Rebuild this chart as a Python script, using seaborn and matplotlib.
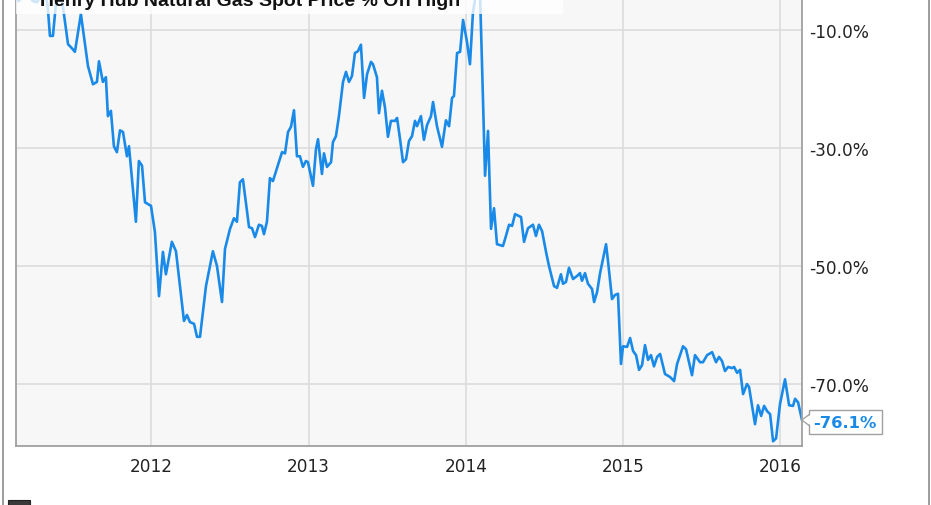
import matplotlib
matplotlib.use("Agg")
import matplotlib.pyplot as plt
import seaborn as sns
import pandas as pd
from matplotlib.patches import Rectangle, Polygon
from matplotlib.lines import Line2D
from matplotlib.transforms import ScaledTranslation

# --- dados (ano decimal, % abaixo da maxima) ---
years = [
    2011.150, 2011.176, 2011.214, 2011.246, 2011.271, 2011.303, 2011.329, 2011.341,
    2011.354, 2011.373, 2011.392, 2011.405, 2011.424, 2011.437, 2011.469, 2011.494,
    2011.513, 2011.551, 2011.596, 2011.628, 2011.653, 2011.666, 2011.691, 2011.710,
    2011.723, 2011.742, 2011.761, 2011.780, 2011.800, 2011.819, 2011.844, 2011.857,
    2011.901, 2011.920, 2011.940, 2011.959, 2011.997, 2012.022, 2012.048, 2012.073,
    2012.092, 2012.130, 2012.156, 2012.207, 2012.226, 2012.245, 2012.271, 2012.290,
    2012.309, 2012.347, 2012.391, 2012.417, 2012.449, 2012.468, 2012.500, 2012.525,
    2012.544, 2012.563, 2012.582, 2012.621, 2012.640, 2012.659, 2012.684, 2012.703,
    2012.716, 2012.735, 2012.754, 2012.773, 2012.831, 2012.850, 2012.869, 2012.888,
    2012.907, 2012.926, 2012.945, 2012.964, 2012.983, 2012.996, 2013.028, 2013.047,
    2013.060, 2013.085, 2013.098, 2013.117, 2013.143, 2013.155, 2013.174, 2013.193,
    2013.219, 2013.238, 2013.257, 2013.276, 2013.295, 2013.314, 2013.333, 2013.353,
    2013.372, 2013.397, 2013.410, 2013.435, 2013.448, 2013.467, 2013.486, 2013.505,
    2013.524, 2013.550, 2013.563, 2013.582, 2013.601, 2013.620, 2013.639, 2013.658,
    2013.677, 2013.690, 2013.715, 2013.734, 2013.754, 2013.779, 2013.792, 2013.817,
    2013.849, 2013.874, 2013.894, 2013.913, 2013.925, 2013.945, 2013.964, 2013.983,
    2014.008, 2014.027, 2014.046, 2014.072, 2014.091, 2014.104, 2014.123, 2014.142,
    2014.161, 2014.180, 2014.199, 2014.237, 2014.256, 2014.276, 2014.295, 2014.314,
    2014.352, 2014.371, 2014.396, 2014.428, 2014.447, 2014.466, 2014.486, 2014.511,
    2014.530, 2014.562, 2014.581, 2014.606, 2014.619, 2014.638, 2014.657, 2014.683,
    2014.708, 2014.727, 2014.740, 2014.759, 2014.778, 2014.804, 2014.817, 2014.836,
    2014.855, 2014.893, 2014.906, 2014.931, 2014.950, 2014.969, 2014.988, 2015.001,
    2015.027, 2015.046, 2015.065, 2015.084, 2015.103, 2015.122, 2015.141, 2015.160,
    2015.179, 2015.198, 2015.218, 2015.237, 2015.268, 2015.300, 2015.326, 2015.345,
    2015.383, 2015.402, 2015.440, 2015.459, 2015.491, 2015.510, 2015.536, 2015.568,
    2015.593, 2015.612, 2015.631, 2015.650, 2015.670, 2015.695, 2015.708, 2015.727,
    2015.746, 2015.765, 2015.790, 2015.803, 2015.841, 2015.860, 2015.880, 2015.899,
    2015.918, 2015.937, 2015.956, 2015.975, 2016.000, 2016.032, 2016.058, 2016.083,
    2016.096, 2016.115, 2016.140,
]
pct_off_high = [
    -5.1, -4.6, -4.1, -5.1, -5.3, -3.7, -4.1, -6.4,
    -11.0, -11.0, -5.6, -4.2, -4.4, -6.1, -12.4, -13.1,
    -13.7, -7.3, -16.1, -19.2, -18.8, -15.3, -18.8, -18.0,
    -24.6, -23.7, -29.7, -30.7, -27.0, -27.3, -31.4, -29.7,
    -42.5, -32.2, -33.0, -39.2, -39.8, -44.2, -55.1, -47.6,
    -51.4, -45.9, -47.5, -59.3, -58.3, -59.5, -59.8, -62.0,
    -62.0, -53.4, -47.5, -50.0, -56.1, -47.1, -43.7, -41.9,
    -42.5, -35.8, -35.3, -43.4, -43.6, -45.1, -43.0, -43.2,
    -44.6, -42.5, -35.1, -35.6, -30.7, -30.9, -27.3, -26.4,
    -23.6, -31.4, -31.4, -33.2, -32.2, -32.4, -36.4, -30.2,
    -28.5, -34.4, -30.9, -33.2, -32.4, -29.0, -28.0, -24.6,
    -18.8, -17.1, -18.8, -17.8, -13.9, -13.6, -12.5, -21.5,
    -17.5, -15.4, -15.8, -18.0, -24.1, -20.3, -23.1, -28.1,
    -25.4, -25.4, -24.9, -28.5, -32.4, -31.9, -28.8, -28.0,
    -25.4, -26.3, -24.6, -28.6, -26.1, -24.6, -22.2, -26.3,
    -29.8, -25.3, -26.3, -21.5, -21.2, -13.9, -13.7, -8.3,
    -12.0, -15.8, -7.0, -2.7, -3.9, -16.1, -34.7, -27.1,
    -43.7, -40.2, -46.3, -46.6, -44.9, -43.0, -43.2, -41.2,
    -41.7, -45.9, -43.6, -43.0, -44.9, -43.0, -44.1, -47.6,
    -50.0, -53.4, -53.7, -51.4, -53.0, -52.7, -50.3, -52.2,
    -51.7, -51.2, -52.5, -51.2, -53.0, -53.9, -56.1, -54.4,
    -51.2, -46.3, -49.3, -55.6, -54.9, -54.7, -66.6, -63.6,
    -63.7, -62.2, -64.4, -65.1, -67.6, -66.8, -63.4, -65.9,
    -65.1, -67.0, -65.4, -64.9, -68.3, -68.8, -69.5, -66.6,
    -63.6, -64.1, -68.5, -65.1, -66.3, -66.3, -65.1, -64.6,
    -66.3, -65.4, -66.1, -67.8, -67.1, -67.3, -67.1, -68.1,
    -67.6, -71.7, -70.0, -70.5, -76.8, -73.6, -75.4, -73.7,
    -74.6, -75.1, -79.7, -79.2, -73.4, -69.2, -73.6, -73.7,
    -72.5, -73.1, -76.1,
]
year_ticks = [2012, 2013, 2014, 2015, 2016]
pct_ticks = [-10, -30, -50, -70]
title = "Henry Hub Natural Gas Spot Price % Off High"

LINE = "#1a8ae8"
GRID = "#dcdcdc"
FRAME = "#a0a0a0"

df = pd.DataFrame({"year": years, "pct": pct_off_high})

sns.set_theme(style="whitegrid")
plt.rcParams["font.family"] = ["DejaVu Sans"]

fig = plt.figure(figsize=(9.31, 5.06), dpi=100)
fig.patch.set_facecolor("white")
# eixo passa do topo da figura (grafico original recortado)
ax = fig.add_axes([16 / 931, 59 / 506, 786 / 931, 475 / 506])
ax.set_facecolor("#f7f7f7")

sns.lineplot(data=df, x="year", y="pct", ax=ax, color=LINE, linewidth=1.9,
             estimator=None, sort=False)

ax.set_xlim(2011.138, 2016.140)
ax.set_ylim(-80.5, 0)
ax.set_xticks(year_ticks)
ax.set_xticklabels([str(y) for y in year_ticks])
ax.set_yticks(pct_ticks)
ax.set_yticklabels([f"{v:.1f}%" for v in pct_ticks])
ax.yaxis.tick_right()
ax.set_xlabel("")
ax.set_ylabel("")
ax.grid(True, color=GRID, linewidth=1.2)
ax.tick_params(axis="both", length=0, labelsize=12.2, colors="#222222")
ax.tick_params(axis="x", pad=8)
ax.tick_params(axis="y", pad=5)
for side in ["left", "right", "bottom"]:
    ax.spines[side].set_visible(True)
    ax.spines[side].set_color(FRAME)
    ax.spines[side].set_linewidth(1.3)
ax.spines["top"].set_visible(False)

# rotulo do ultimo valor
x_last, y_last = years[-1], pct_off_high[-1]
t = fig.dpi_scale_trans + ScaledTranslation(x_last, y_last, ax.transData)
ax.add_patch(Polygon([(0.085, 0.065), (0.0, 0.0), (0.085, -0.065)], closed=True,
                     transform=t, facecolor="white", edgecolor=FRAME,
                     linewidth=1.0, clip_on=False, zorder=5))
ax.text(0.115, -0.02, f"{y_last:.1f}%", transform=t, ha="left", va="center",
        fontsize=11.8, fontweight="bold", color=LINE, zorder=6, clip_on=False,
        bbox=dict(boxstyle="square,pad=0.3", facecolor="white",
                  edgecolor=FRAME, linewidth=1.0))
ax.add_patch(Polygon([(0.095, 0.058), (0.012, 0.0), (0.095, -0.058)], closed=True,
                     transform=t, facecolor="white", edgecolor="none",
                     clip_on=False, zorder=7))

# caixa do titulo (semi-transparente, cortada no topo)
fig.add_artist(Rectangle((16 / 931, 491 / 506), 547 / 931, 0.05,
                         transform=fig.transFigure, facecolor="white",
                         edgecolor="none", alpha=0.78, zorder=3))
fig.text(40 / 931, 1 - 6.5 / 506, title, ha="left", va="baseline",
         fontsize=14, fontweight="bold", family=["Liberation Sans", "DejaVu Sans"],
         color="#111111", zorder=4)

# moldura externa
for xf in (2.5 / 931, 928.5 / 931):
    fig.add_artist(Line2D([xf, xf], [0, 1], transform=fig.transFigure,
                          color="#8c8c8c", linewidth=1.2))

# logotipo (parcial) no canto inferior
fig.add_artist(Rectangle((8 / 931, -0.01), 22 / 931, 10 / 506,
                         transform=fig.transFigure, facecolor="#3a3a3a",
                         edgecolor="#222222", linewidth=0.8))

fig.savefig("out.png", dpi=100)
